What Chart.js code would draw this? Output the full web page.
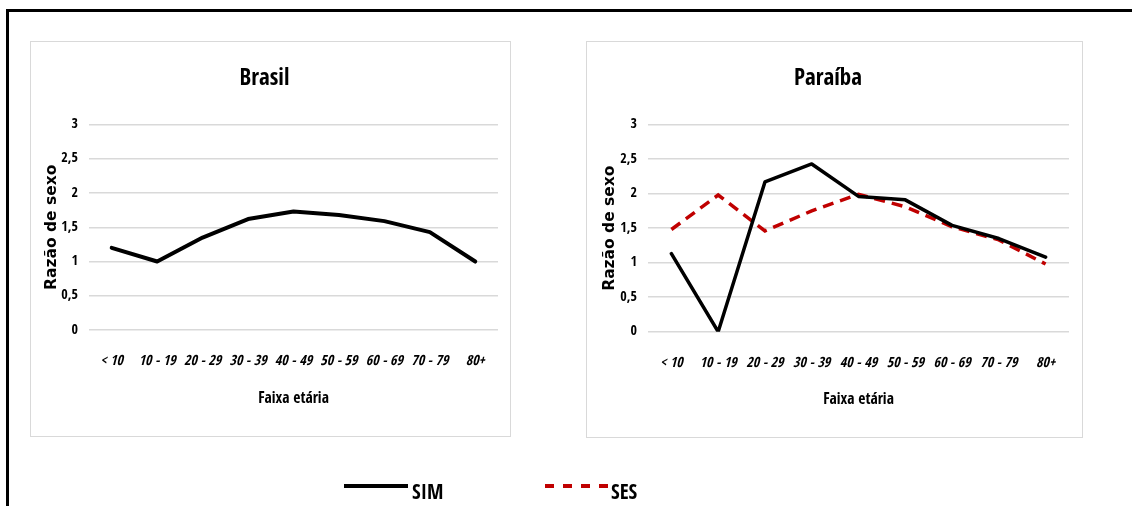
<!DOCTYPE html>
<html>
<head>
<meta charset="utf-8">
<script src="https://cdn.jsdelivr.net/npm/chart.js@4"></script>
<style>
  html, body { margin:0; padding:0; background:#fff; }
  body { width:1132px; height:506px; position:relative; overflow:hidden; }
  #frame { position:absolute; left:6px; top:9px; width:1200px; height:600px; border-top:3px solid #000; border-left:3px solid #000; }
  .panel { position:absolute; border:1px solid #d9d9d9; background:#fff; }
  .legend { position:absolute; font-family:'Open Sans Condensed','Roboto Condensed',sans-serif; font-weight:bold; font-size:21px; color:#000; line-height:24px; }
</style>
</head>
<body>
<div id="frame"></div>
<div class="panel" style="left:30px;top:41px;width:479px;height:394px;"><canvas id="c1"></canvas></div>
<div class="panel" style="left:586px;top:41px;width:495px;height:395px;"><canvas id="c2"></canvas></div>
<svg style="position:absolute;left:0;top:0;" width="1132" height="506">
  <line x1="344" y1="486" x2="408" y2="486" stroke="#000" stroke-width="4"/>
  <line x1="545" y1="486" x2="608" y2="486" stroke="#c00000" stroke-width="4" stroke-dasharray="9,9"/>
</svg>
<div class="legend" id="lg1" style="left:412px;top:479px;"></div>
<div class="legend" id="lg2" style="left:611px;top:479px;"></div>
<script>
const categories = ['< 10', '10 - 19', '20 - 29', '30 - 39', '40 - 49', '50 - 59', '60 - 69', '70 - 79', '80+'];
const brasilSIM = [1.2, 1.0, 1.35, 1.62, 1.73, 1.68, 1.59, 1.43, 1.0];
const paraibaSIM = [1.13, 0, 2.17, 2.43, 1.96, 1.91, 1.54, 1.35, 1.08];
const paraibaSES = [1.48, 1.98, 1.46, 1.75, 1.99, 1.81, 1.52, 1.33, 0.98];
const yTicks = [0, 0.5, 1, 1.5, 2, 2.5, 3];
const seriesNames = ['SIM', 'SES'];
const titles = ['Brasil', 'Paraíba'];
const yTitle = 'Razão de sexo';
const xTitle = 'Faixa etária';

document.getElementById('lg1').textContent = seriesNames[0];
document.getElementById('lg2').textContent = seriesNames[1];

const NARROW = "'Open Sans Condensed','Roboto Condensed',sans-serif";

function makeOptions(title, yWidth, xHeight, rightPad, yTitlePad) {
  return {
    responsive: true,
    maintainAspectRatio: false,
    animation: false,
    layout: { padding: { left: 0, right: rightPad, top: 0, bottom: 0 } },
    plugins: {
      legend: { display: false },
      tooltip: { enabled: false },
      title: {
        display: true, text: title, color: '#000',
        font: { family: NARROW, size: 23, weight: 'bold', lineHeight: 1.2 },
        padding: { top: 23, bottom: 32 }
      }
    },
    scales: {
      x: {
        type: 'category',
        offset: true,
        grid: { display: false, drawTicks: false },
        border: { display: false },
        ticks: { color: '#000', padding: 23, maxRotation: 0, autoSkip: false,
          font: { family: NARROW, size: 14, weight: 'bold', style: 'italic', lineHeight: 1.2 } },
        title: { display: true, text: xTitle, color: '#000',
          font: { family: NARROW, size: 15.5, weight: 'bold', lineHeight: 1.2 },
          padding: { top: 0, bottom: 28 } },
        afterFit: (s) => { s.height = xHeight; }
      },
      y: {
        min: 0, max: 3,
        afterBuildTicks: (s) => { s.ticks = yTicks.map(v => ({ value: v })); },
        grid: { color: '#d9d9d9', lineWidth: 1.5, drawTicks: false },
        border: { display: false },
        ticks: { color: '#000', padding: 11,
          callback: (v) => String(v).replace('.', ','),
          font: { family: NARROW, size: 14, weight: 'bold', lineHeight: 1.2 } },
        title: { display: true, text: yTitle, color: '#000',
          font: { family: "'DejaVu Sans',sans-serif", size: 15.5, weight: 'bold', lineHeight: 1.2 },
          padding: { top: yTitlePad, bottom: 0 } },
        afterFit: (s) => { s.width = yWidth; }
      }
    }
  };
}

new Chart(document.getElementById('c1'), {
  type: 'line',
  data: {
    labels: categories,
    datasets: [
      { label: seriesNames[0], data: brasilSIM, borderColor: '#000', borderWidth: 4,
        pointRadius: 0, tension: 0, fill: false, borderCapStyle: 'round', borderJoinStyle: 'round' }
    ]
  },
  options: makeOptions(titles[0], 58, 106, 12, 12)
});

new Chart(document.getElementById('c2'), {
  type: 'line',
  data: {
    labels: categories,
    datasets: [
      { label: seriesNames[0], data: paraibaSIM, borderColor: '#000', borderWidth: 3.5,
        pointRadius: 0, tension: 0, fill: false, borderCapStyle: 'round', borderJoinStyle: 'round' },
      { label: seriesNames[1], data: paraibaSES, borderColor: '#c00000', borderWidth: 3.5,
        borderDash: [11, 7], pointRadius: 0, tension: 0, fill: false }
    ]
  },
  options: makeOptions(titles[1], 61, 105.3, 13, 14)
});
</script>
</body>
</html>
